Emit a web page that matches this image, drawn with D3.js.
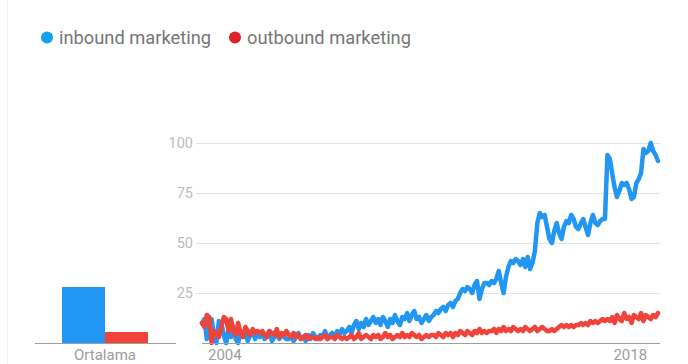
<!DOCTYPE html>
<html><head><meta charset="utf-8">
<script src="https://cdn.jsdelivr.net/npm/d3@7"></script>
<style>
html,body{margin:0;padding:0;background:#fff;}
svg{display:block;font-family:Roboto,"Noto Sans",sans-serif;}
</style></head>
<body><svg id="c" width="688" height="364"></svg>
<script>
const seriesNames = ["inbound marketing", "outbound marketing"];
const seriesColors = ["#2196f3", "#f0433a"];
const legendColors = ["#12a3ee", "#e3212b"];
const yTicks = [25, 50, 75, 100];
const xTickLabels = ["2004", "2018"];
const averageLabel = "Ortalama";
const averages = [28, 5.5];

const inbound = [
 10,12,2,9,12,4,0,11,10,4,0,7,
 3,8,2,0,6,3,5,1,4,6,2,5,
 3,5,2,4,6,1,3,5,2,4,3,2,
 2,4,1,3,5,2,3,1,4,2,5,3,
 2,4,3,6,2,4,5,3,6,4,7,5,
 6,8,5,9,11,7,10,8,12,9,11,13,
 10,12,9,13,11,8,12,10,14,11,9,13,
 12,15,11,14,16,12,13,10,12,14,11,13,
 14,16,15,17,18,16,19,20,18,21,22,25,
 27,26,28,27,25,29,31,22,27,30,30,29,
 31,30,32,36,30,25,33,38,41,40,42,41,
 39,42,38,43,37,40,46,60,65,63,64,58,
 52,50,56,60,55,52,58,61,60,64,62,58,
 57,60,62,58,54,60,64,60,59,61,62,62,
 94,92,85,78,73,76,80,79,80,77,72,73,
 80,82,85,97,95,96,100,96,94,91
];
const outbound = [
 10,8,14,13,0,6,5,3,8,13,12,6,
 12,6,4,10,5,3,8,6,4,7,5,6,
 5,6,4,3,6,5,4,7,3,5,4,6,
 4,3,5,3,4,2,3,4,2,3,3,2,
 3,2,3,4,2,3,3,2,4,3,2,3,
 2,3,4,2,3,5,2,3,4,3,2,4,
 3,4,2,3,5,3,4,2,3,4,3,5,
 3,4,3,5,4,3,4,2,3,4,3,4,
 4,3,5,4,3,5,4,5,3,5,4,6,
 5,4,6,5,4,6,5,7,5,6,5,6,
 6,7,5,7,6,8,6,7,6,8,7,6,
 7,6,8,7,6,7,8,6,7,8,7,6,
 6,7,6,7,8,9,8,9,8,9,8,9,
 9,10,9,10,9,11,10,11,10,11,12,11,
 12,11,13,10,14,12,11,15,12,13,10,14,
 13,12,15,11,14,13,12,14,13,15
];
const startDate = new Date(2004, 0, 1);
const dates = inbound.map((_, i) => d3.timeMonth.offset(startDate, i));

const svg = d3.select("#c");

// frame edge
svg.append("line").attr("x1", 7.5).attr("x2", 7.5).attr("y1", 0).attr("y2", 364)
  .attr("stroke", "#f2f2f2").attr("stroke-width", 1);

// legend
const lg = svg.append("g");
const legendX = [47, 235];
seriesNames.forEach((n, i) => {
  const xs = legendX[i];
  lg.append("circle").attr("cx", xs).attr("cy", 37.5).attr("r", 6).attr("fill", legendColors[i]);
  lg.append("text").attr("x", xs + 12).attr("y", 44).attr("font-size", 18.3)
    .attr("fill", "#767676").text(n);
});

// main chart scales
const x = d3.scaleTime().domain([dates[0], dates[dates.length - 1]]).range([202, 658]);
const y = d3.scaleLinear().domain([0, 100]).range([343, 143]);

// grid
const grid = svg.append("g");
grid.selectAll("line").data(yTicks).join("line")
  .attr("x1", 196).attr("x2", 660)
  .attr("y1", d => y(d) + 0.5).attr("y2", d => y(d) + 0.5)
  .attr("stroke", "#e3e3e3").attr("stroke-width", 1);
grid.selectAll("text").data(yTicks).join("text")
  .attr("x", 193).attr("y", d => y(d) + 5)
  .attr("text-anchor", "end").attr("font-size", 14.5).attr("fill", "#bdbdbd")
  .text(d => d);

// lines
const line = d3.line().x((d, i) => x(dates[i])).y(d => y(d)).curve(d3.curveLinear);
[inbound, outbound].forEach((s, k) => {
  svg.append("path").datum(s).attr("d", line)
    .attr("fill", "none").attr("stroke", seriesColors[k])
    .attr("stroke-width", 4.5).attr("stroke-linejoin", "round").attr("stroke-linecap", "round");
});

// baseline
svg.append("line").attr("x1", 202).attr("x2", 660).attr("y1", 343.5).attr("y2", 343.5)
  .attr("stroke", "#9e9e9e").attr("stroke-width", 1.2);

// x labels
const xl = [new Date(2004, 0, 1), new Date(2018, 0, 1)];
svg.selectAll(".xl").data(xl).join("text")
  .attr("x", d => x(d) + 6).attr("y", 360)
  .attr("font-size", 15).attr("fill", "#9e9e9e")
  .text((d, i) => xTickLabels[i]);

// average bars
const xb = d3.scaleBand().domain(seriesNames).range([62, 148]).padding(0);
svg.selectAll(".bar").data(averages).join("rect")
  .attr("x", (d, i) => xb(seriesNames[i]))
  .attr("width", xb.bandwidth())
  .attr("y", d => y(d)).attr("height", d => y(0) - y(d))
  .attr("fill", (d, i) => seriesColors[i]);
svg.append("line").attr("x1", 35).attr("x2", 176).attr("y1", 343.5).attr("y2", 343.5)
  .attr("stroke", "#9e9e9e").attr("stroke-width", 1.2);
svg.append("text").attr("x", 105).attr("y", 360).attr("text-anchor", "middle")
  .attr("font-size", 15).attr("fill", "#9e9e9e").text(averageLabel);
</script></body></html>
